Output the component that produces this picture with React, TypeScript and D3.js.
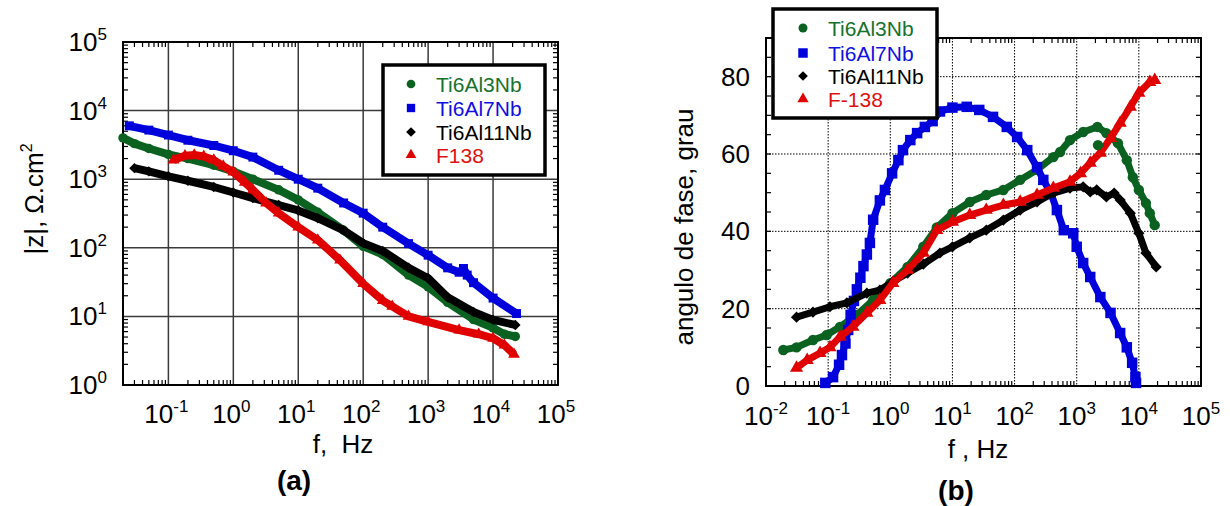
import React from "react";
import * as d3 from "d3";

// |Z| vs f  (panel a)  [f Hz, |Z| ohm.cm2]
const zTi6Al3Nb: [number, number][] = [
  [0.02, 4000], [0.03, 3300], [0.05, 2800], [0.1, 2300], [0.2, 2000], [0.5, 1600],
  [1, 1300], [2, 1000], [5, 700], [10, 500], [20, 330], [50, 180], [100, 105],
  [200, 80], [500, 40], [1000, 27], [2000, 16], [5000, 9], [10000, 6.8],
  [15000, 5.5], [22000, 5.1],
];
const zTi6Al7Nb: [number, number][] = [
  [0.025, 6000], [0.05, 5200], [0.1, 4400], [0.2, 3700], [0.5, 3100], [1, 2600],
  [2, 2100], [5, 1350], [10, 1000], [20, 740], [50, 450], [100, 320], [200, 200],
  [500, 115], [1000, 78], [2000, 51], [3000, 44], [3500, 50], [4000, 40], [5000, 31],
  [10000, 18.5], [23000, 11],
];
const zTi6Al11Nb: [number, number][] = [
  [0.03, 1450], [0.05, 1300], [0.1, 1100], [0.2, 950], [0.5, 770], [1, 640],
  [2, 530], [5, 420], [10, 350], [20, 270], [50, 180], [100, 117], [200, 90],
  [500, 51], [1000, 36], [2000, 19], [5000, 11.6], [10000, 8.9], [22000, 7.5],
];
const zF138: [number, number][] = [
  [0.12, 1900], [0.18, 2200], [0.25, 2250], [0.35, 2150], [0.5, 1900], [0.7, 1550],
  [1, 1270], [1.5, 900], [2, 700], [3.2, 450], [5, 320], [10, 200], [20, 130],
  [44, 66], [100, 30], [200, 17], [280, 14], [500, 10], [1000, 8.3], [3000, 6.3],
  [6000, 5.5], [10000, 4.8], [15000, 3.8], [21000, 2.8],
];

// phase angle vs f  (panel b)  [f Hz, degrees]
const phTi6Al3Nb: [number, number][] = [
  [0.019, 9.3], [0.031, 10], [0.057, 11.9], [0.095, 13.2], [0.155, 15.3], [0.29, 18.4],
  [0.53, 22.2], [1, 26.6], [1.9, 30.8], [3.4, 36], [5.6, 41], [10, 44.7], [19, 47.6],
  [35, 49.4], [66, 50.7], [123, 53.3], [230, 55.9], [420, 59.2], [540, 60.5],
  [780, 63.6], [1270, 65.7], [2150, 67], [3000, 65.4], [4600, 62.8],
  [6400, 58.4], [8000, 54], [10000, 50.7], [13000, 47.3], [15000, 44.7], [18000, 41.6],
];
const phTi6Al3NbStray: [number, number][] = [[2200, 62.3]];
const phTi6Al7Nb: [number, number][] = [
  [0.09, 0.8], [0.12, 2.3], [0.15, 5.5], [0.167, 8], [0.19, 11], [0.21, 14.5],
  [0.23, 18.4], [0.26, 22], [0.29, 25], [0.33, 28], [0.37, 31], [0.42, 34], [0.47, 37],
  [0.53, 43], [0.68, 48], [0.82, 50.7], [1.07, 55], [1.35, 58.4], [1.6, 61],
  [2.1, 63.6], [2.7, 65.4], [3.6, 67], [4.8, 68.5], [6.3, 71], [10, 72], [17, 72.2],
  [27, 71.4], [45, 69.6], [75, 67], [110, 64.4], [160, 61], [230, 56.6], [290, 53.3],
  [380, 50], [480, 45.5], [620, 40.3], [880, 39.5], [1000, 36], [1270, 31.8],
  [1650, 28.2], [2400, 23], [3500, 18.9], [5000, 13.7], [6400, 10], [7800, 6],
  [8800, 2.3], [9000, 0.8],
];
const phTi6Al11Nb: [number, number][] = [
  [0.031, 17.8], [0.057, 19.1], [0.107, 20.5], [0.2, 21.5], [0.42, 24], [0.68, 24.8],
  [1.1, 27], [1.9, 29.2], [3.4, 31.5], [6.3, 34.4], [10, 36], [19, 38.3], [35, 40.3],
  [66, 42.9], [123, 45.5], [230, 47.6], [420, 49.9], [780, 51.2], [1270, 51.5],
  [1650, 50.2], [2100, 50.7], [3000, 48.9], [4000, 49.9], [5000, 48.1], [7300, 44.7],
  [10000, 39.5], [13000, 34.4], [19000, 30.8],
];
const phF138: [number, number][] = [
  [0.031, 4.7], [0.046, 6.7], [0.074, 8.5], [0.107, 10], [0.155, 12.7], [0.25, 15.3],
  [0.42, 18.9], [0.68, 22.2], [1.1, 26.6], [1.9, 30], [3.4, 34.4], [5.6, 40.3],
  [10, 42.4], [19, 44.2], [35, 45.5], [66, 46.8], [123, 47.6], [230, 49.4],
  [420, 51.2], [780, 52.8], [1150, 55], [1650, 57.7], [2400, 60.3], [3500, 64.1],
  [5000, 68], [7300, 72.2], [10000, 75.8], [15000, 78.6], [18000, 79.1],
];

const namesA = ["Ti6Al3Nb", "Ti6Al7Nb", "Ti6Al11Nb", "F138"];
const namesB = ["Ti6Al3Nb", "Ti6Al7Nb", "Ti6Al11Nb", "F-138"];
const colors = ["#0b6220", "#0000dd", "#000000", "#e00000"];
const textColors = ["#17722c", "#1010e0", "#000000", "#e01010"];
const shapes = [d3.symbolCircle, d3.symbolSquare, d3.symbolDiamond2, d3.symbolTriangle];

const FONT = "'Liberation Sans', Arial, sans-serif";

function Pow({ x, y, e, anchor = "middle" }: { x: number; y: number; e: number; anchor?: string }) {
  return (
    <text x={x} y={y} textAnchor={anchor} fontSize={26}>
      10<tspan dy={-11} fontSize={17}>{e}</tspan>
    </text>
  );
}

function Marks({ data, x, y, i, size }: any) {
  const sym = d3.symbol(shapes[i], size[i]);
  return (
    <g>
      {data.map((d: [number, number], k: number) => (
        <path key={k} d={sym() || ""} transform={`translate(${x(d[0])},${y(d[1])})`} fill={colors[i]} />
      ))}
    </g>
  );
}

function Series({ data, x, y, i, size, lw }: any) {
  const line = d3.line<[number, number]>().x(d => x(d[0])).y(d => y(d[1]));
  return (
    <g>
      <path d={line(data) || ""} fill="none" stroke={colors[i]} strokeWidth={lw} strokeLinejoin="round" />
      <Marks data={data} x={x} y={y} i={i} size={size} />
    </g>
  );
}

function Legend({ x0, y0, w, h, mx, tx, rows, names, size }: any) {
  return (
    <g>
      <rect x={x0} y={y0} width={w} height={h} fill="#fff" stroke="#000" strokeWidth={3.5} />
      {names.map((n: string, i: number) => (
        <g key={n}>
          <path d={d3.symbol(shapes[i], size[i])() || ""} transform={`translate(${mx},${rows[i]})`} fill={colors[i]} />
          <text x={tx} y={rows[i] + 7.5} fontSize={21} fill={textColors[i]}>{n}</text>
        </g>
      ))}
    </g>
  );
}

function PanelA() {
  const x = d3.scaleLog().domain([0.02, 1e5]).range([123, 558]);
  const y = d3.scaleLog().domain([1, 1e5]).range([385, 42]);
  const [x0, x1] = x.range();
  const [y0, y1] = y.range();
  const decX = [-1, 0, 1, 2, 3, 4, 5];
  const decY = [0, 1, 2, 3, 4, 5];
  const minorX: number[] = [];
  for (let e = -2; e < 5; e++) for (let m = 2; m <= 9; m++) if (m * 10 ** e >= 0.02) minorX.push(m * 10 ** e);
  const minorY: number[] = [];
  for (let e = 0; e < 5; e++) for (let m = 2; m <= 9; m++) minorY.push(m * 10 ** e);
  const data = [zTi6Al3Nb, zTi6Al7Nb, zTi6Al11Nb, zF138];
  const size = [70, 80, 70, 60];
  return (
    <g>
      {decX.map(e => (
        <line key={"gx" + e} x1={x(10 ** e)} x2={x(10 ** e)} y1={y1} y2={y0} stroke="#3a3a3a" strokeWidth={1.5} />
      ))}
      {decY.map(e => (
        <line key={"gy" + e} x1={x0} x2={x1} y1={y(10 ** e)} y2={y(10 ** e)} stroke="#3a3a3a" strokeWidth={1.5} />
      ))}
      {minorX.map((f, k) => (
        <g key={"mx" + k} stroke="#000" strokeWidth={1.2}>
          <line x1={x(f)} x2={x(f)} y1={y0} y2={y0 - 5} />
          <line x1={x(f)} x2={x(f)} y1={y1} y2={y1 + 5} />
        </g>
      ))}
      {minorY.map((v, k) => (
        <g key={"my" + k} stroke="#000" strokeWidth={1.2}>
          <line x1={x0} x2={x0 + 5} y1={y(v)} y2={y(v)} />
          <line x1={x1} x2={x1 - 5} y1={y(v)} y2={y(v)} />
        </g>
      ))}
      <rect x={x0} y={y1} width={x1 - x0} height={y0 - y1} fill="none" stroke="#000" strokeWidth={2} />
      {data.map((d, i) => (
        <Series key={i} data={d} x={x} y={y} i={i} size={size} lw={8} />
      ))}
      {decX.map(e => (
        <Pow key={"lx" + e} x={x(10 ** e) - 2} y={423} e={e} />
      ))}
      {decY.map(e => (
        <Pow key={"ly" + e} x={107} y={y(10 ** e) + 9} e={e} anchor="end" />
      ))}
      <text x={343} y={453} textAnchor="middle" fontSize={26} style={{ whiteSpace: "pre" }}>f,  Hz</text>
      <text transform="translate(43,199) rotate(-90)" textAnchor="middle" fontSize={26}>
        |z|, Ω.cm<tspan dy={-11} fontSize={16}>2</tspan>
      </text>
      <text x={294} y={490} textAnchor="middle" fontSize={28} fontWeight="bold">(a)</text>
      <Legend x0={383} y0={65} w={162} h={110} mx={411} tx={436} rows={[84, 108, 132, 155]} names={namesA} size={[60, 70, 60, 50]} />
    </g>
  );
}

function PanelB() {
  const x = d3.scaleLog().domain([0.01, 1e5]).range([766, 1201]);
  const y = d3.scaleLinear().domain([0, 90]).range([386, 38]);
  const [x0, x1] = x.range();
  const [y0, y1] = y.range();
  const decX = [-2, -1, 0, 1, 2, 3, 4, 5];
  const gridY = [20, 40, 60, 80];
  const labY = [0, 20, 40, 60, 80];
  const minorX: number[] = [];
  for (let e = -2; e < 5; e++) for (let m = 2; m <= 9; m++) minorX.push(m * 10 ** e);
  const minorY = d3.range(5, 90, 5);
  const data = [phTi6Al3Nb, phTi6Al7Nb, phTi6Al11Nb, phF138];
  const size = [85, 110, 80, 75];
  return (
    <g>
      {decX.slice(1, -1).map(e => (
        <line key={"gx" + e} x1={x(10 ** e)} x2={x(10 ** e)} y1={y1} y2={y0} stroke="#000" strokeWidth={1} strokeDasharray="1.5,1.5" />
      ))}
      {gridY.map(v => (
        <line key={"gy" + v} x1={x0} x2={x1} y1={y(v)} y2={y(v)} stroke="#000" strokeWidth={1} strokeDasharray="1.5,1.5" />
      ))}
      {minorX.map((f, k) => (
        <g key={"mx" + k} stroke="#000" strokeWidth={1.2}>
          <line x1={x(f)} x2={x(f)} y1={y0} y2={y0 - 5} />
          <line x1={x(f)} x2={x(f)} y1={y1} y2={y1 + 5} />
        </g>
      ))}
      {minorY.map((v, k) => (
        <g key={"my" + k} stroke="#000" strokeWidth={1.2}>
          <line x1={x0} x2={x0 + 5} y1={y(v)} y2={y(v)} />
          <line x1={x1} x2={x1 - 5} y1={y(v)} y2={y(v)} />
        </g>
      ))}
      <rect x={x0} y={y1} width={x1 - x0} height={y0 - y1} fill="none" stroke="#000" strokeWidth={2} />
      {data.map((d, i) => (
        <Series key={i} data={d} x={x} y={y} i={i} size={size} lw={7} />
      ))}
      <Marks data={phTi6Al3NbStray} x={x} y={y} i={0} size={size} />
      {decX.map(e => (
        <Pow key={"lx" + e} x={x(10 ** e)} y={425} e={e} />
      ))}
      {labY.map(v => (
        <text key={"ly" + v} x={750} y={y(v) + 9} textAnchor="end" fontSize={26}>{v}</text>
      ))}
      <text x={978} y={458} textAnchor="middle" fontSize={26} style={{ whiteSpace: "pre" }}>f , Hz</text>
      <text transform="translate(693,227) rotate(-90)" textAnchor="middle" fontSize={26}>angulo de fase, grau</text>
      <text x={956} y={500} textAnchor="middle" fontSize={28} fontWeight="bold">(b)</text>
      <Legend x0={773} y0={9} w={164} h={109} mx={803} tx={828} rows={[28, 53, 76, 99]} names={namesB} size={[64, 90, 60, 55]} />
    </g>
  );
}

export default function App() {
  return (
    <svg
      width={1230}
      height={506}
      style={{ position: "absolute", left: 0, top: 0, background: "#fff", fontFamily: FONT }}
    >
      <PanelA />
      <PanelB />
    </svg>
  );
}
